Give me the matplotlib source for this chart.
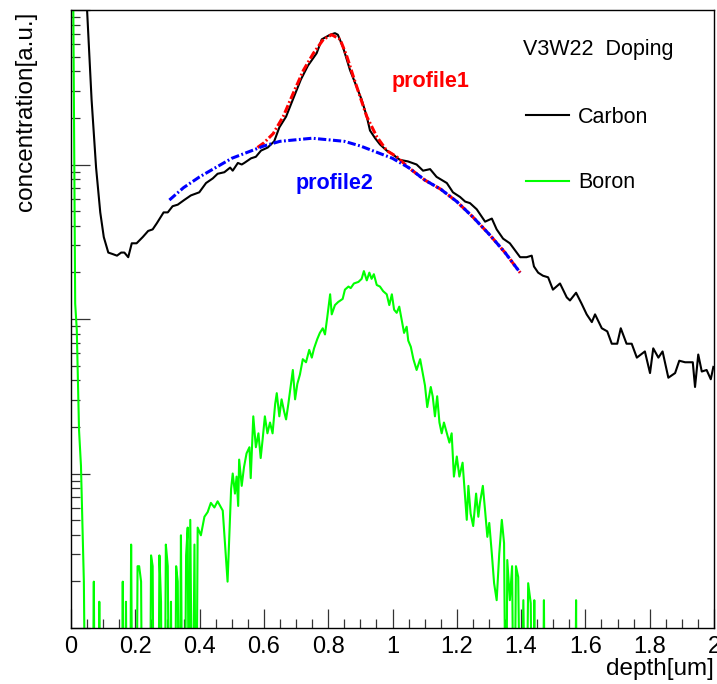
import numpy as np
import matplotlib
matplotlib.use("Agg")
import matplotlib.pyplot as plt
from matplotlib.ticker import MultipleLocator, LogLocator, NullFormatter, FuncFormatter
from matplotlib.lines import Line2D

plt.rcParams['font.family'] = ['Liberation Sans', 'DejaVu Sans']

# ---------------- data (depth in um, log10 of concentration in a.u.) ----------------
carbon_x = [0.040, 0.050, 0.064, 0.078, 0.091, 0.102, 0.116, 0.130, 0.143, 0.156,
            0.166, 0.178, 0.189, 0.204, 0.223, 0.240, 0.254, 0.267, 0.288, 0.301,
            0.316, 0.332, 0.352, 0.373, 0.399, 0.420, 0.441, 0.456, 0.477, 0.495,
            0.503, 0.519, 0.531, 0.539, 0.560, 0.575, 0.591, 0.612, 0.632, 0.648,
            0.669, 0.690, 0.715, 0.737, 0.764, 0.780, 0.806, 0.821, 0.830, 0.846,
            0.868, 0.889, 0.904, 0.920, 0.930, 0.946, 0.961, 0.982, 0.998, 1.023,
            1.048, 1.075, 1.095, 1.117, 1.137, 1.169, 1.188, 1.210, 1.226, 1.241,
            1.262, 1.288, 1.309, 1.324, 1.344, 1.365, 1.397, 1.417, 1.433, 1.440,
            1.453, 1.468, 1.484, 1.499, 1.521, 1.542, 1.552, 1.571, 1.588, 1.604,
            1.620, 1.630, 1.651, 1.668, 1.682, 1.699, 1.710, 1.728, 1.744, 1.760,
            1.785, 1.801, 1.811, 1.827, 1.840, 1.858, 1.879, 1.892, 1.910, 1.934,
            1.941, 1.951, 1.962, 1.977, 1.990, 1.998]
carbon_log = [4.6, 4.0, 3.42, 2.98, 2.69, 2.53, 2.43, 2.42, 2.41, 2.43,
              2.43, 2.40, 2.49, 2.49, 2.53, 2.57, 2.58, 2.62, 2.69, 2.69,
              2.73, 2.74, 2.77, 2.80, 2.82, 2.88, 2.91, 2.94, 2.95, 2.98,
              2.96, 3.01, 3.00, 3.01, 3.04, 3.05, 3.09, 3.11, 3.15, 3.24,
              3.31, 3.42, 3.55, 3.64, 3.72, 3.81, 3.84, 3.85, 3.84, 3.76,
              3.61, 3.50, 3.42, 3.31, 3.22, 3.17, 3.13, 3.09, 3.07, 3.03,
              3.02, 3.00, 2.96, 2.97, 2.92, 2.88, 2.82, 2.79, 2.76, 2.75,
              2.71, 2.63, 2.65, 2.58, 2.52, 2.49, 2.40, 2.40, 2.41, 2.34,
              2.30, 2.28, 2.27, 2.19, 2.23, 2.14, 2.12, 2.17, 2.10, 2.03,
              1.98, 2.03, 1.94, 1.92, 1.84, 1.84, 1.94, 1.84, 1.84, 1.75,
              1.79, 1.65, 1.81, 1.75, 1.79, 1.62, 1.65, 1.73, 1.72, 1.72,
              1.56, 1.77, 1.66, 1.67, 1.61, 1.69]

# -1 marks empty bins (below the axis floor)
boron_x = [0.000, 0.006, 0.013, 0.018, 0.025, 0.031, 0.040, 0.046, 0.066, 0.071,
           0.075, 0.084, 0.088, 0.092, 0.157, 0.161, 0.165, 0.168, 0.171, 0.175,
           0.183, 0.187, 0.192, 0.203, 0.207, 0.212, 0.218, 0.222, 0.245, 0.249,
           0.254, 0.258, 0.271, 0.275, 0.280, 0.284, 0.291, 0.295, 0.301, 0.306,
           0.311, 0.315, 0.323, 0.327, 0.332, 0.337, 0.342, 0.347, 0.353, 0.358,
           0.363, 0.367, 0.371, 0.378, 0.384, 0.389, 0.394, 0.404, 0.415, 0.425,
           0.435, 0.446, 0.456, 0.472, 0.487, 0.498, 0.503, 0.510, 0.515, 0.520,
           0.523, 0.531, 0.538, 0.546, 0.555, 0.559, 0.567, 0.575, 0.583, 0.590,
           0.596, 0.603, 0.611, 0.619, 0.627, 0.635, 0.640, 0.648, 0.655, 0.663,
           0.669, 0.676, 0.683, 0.690, 0.697, 0.704, 0.712, 0.721, 0.731, 0.741,
           0.749, 0.756, 0.766, 0.774, 0.783, 0.790, 0.797, 0.806, 0.811, 0.821,
           0.831, 0.845, 0.852, 0.863, 0.870, 0.880, 0.894, 0.904, 0.911, 0.920,
           0.928, 0.935, 0.942, 0.951, 0.961, 0.971, 0.982, 0.990, 0.998, 1.005,
           1.013, 1.021, 1.029, 1.036, 1.044, 1.049, 1.057, 1.065, 1.075, 1.086,
           1.094, 1.101, 1.108, 1.119, 1.125, 1.132, 1.139, 1.146, 1.153, 1.160,
           1.169, 1.177, 1.184, 1.191, 1.200, 1.208, 1.218, 1.225, 1.231, 1.236,
           1.243, 1.251, 1.260, 1.267, 1.272, 1.281, 1.288, 1.295, 1.301, 1.309,
           1.316, 1.324, 1.332, 1.340, 1.347, 1.353, 1.357, 1.365, 1.372, 1.378,
           1.384, 1.391, 1.399, 1.407, 1.415, 1.422, 1.430, 1.436, 1.441, 1.446,
           1.466, 1.471, 1.475, 1.567, 1.571, 1.574, 2.000]
boron_log = [4.8, 4.4, 2.10, 1.93, 1.28, 1.05, 0.30, -1, -1, 0.30,
             -1, -1, 0.17, -1, -1, 0.30, -1, -1, 0.17, -1,
             -1, 0.54, -1, -1, 0.40, 0.40, 0.30, -1, -1, 0.47,
             0.40, -1, -1, 0.47, 0.17, -1, -1, 0.54, 0.40, -1,
             0.17, -1, -1, 0.40, 0.30, -1, 0.60, -1, -1, 0.47,
             0.65, -1, 0.70, -1, 0.54, -1, 0.65, 0.60, 0.72, 0.75,
             0.81, 0.78, 0.82, 0.76, 0.30, 0.90, 1.00, 0.87, 0.98, 0.79,
             1.09, 0.92, 1.04, 1.13, 1.17, 0.97, 1.37, 1.17, 1.26, 1.10,
             1.22, 1.37, 1.26, 1.33, 1.26, 1.45, 1.52, 1.37, 1.48, 1.40,
             1.35, 1.45, 1.56, 1.67, 1.48, 1.58, 1.64, 1.74, 1.72, 1.80,
             1.75, 1.81, 1.87, 1.91, 1.94, 1.90, 2.01, 2.16, 2.03, 2.09,
             2.11, 2.13, 2.19, 2.21, 2.20, 2.23, 2.24, 2.26, 2.31, 2.25,
             2.30, 2.26, 2.29, 2.22, 2.21, 2.18, 2.16, 2.09, 2.16, 2.06,
             2.04, 2.08, 1.99, 1.91, 1.95, 1.86, 1.82, 1.74, 1.67, 1.74,
             1.65, 1.57, 1.43, 1.56, 1.50, 1.37, 1.50, 1.33, 1.26, 1.33,
             1.26, 1.20, 1.26, 0.98, 1.11, 0.98, 1.07, 0.87, 0.70, 0.92,
             0.74, 0.66, 0.87, 0.72, 0.81, 0.92, 0.76, 0.59, 0.68, 0.48,
             0.29, 0.18, 0.48, 0.70, 0.55, -1, 0.44, 0.18, 0.40, -1,
             0.40, 0.33, -1, 0.18, -1, 0.29, 0.16, -1, 0.18, -1,
             -1, 0.18, -1, -1, 0.18, -1, -1]

profile1_x = [0.580, 0.600, 0.629, 0.660, 0.691, 0.723, 0.754, 0.785, 0.811, 0.837,
              0.858, 0.878, 0.899, 0.920, 0.951, 0.982, 1.013, 1.05, 1.10, 1.15,
              1.20, 1.25, 1.30, 1.35, 1.397]
profile1_log = [3.11, 3.14, 3.20, 3.31, 3.46, 3.61, 3.72, 3.81, 3.84, 3.81,
                3.70, 3.57, 3.44, 3.31, 3.18, 3.09, 3.05, 2.98, 2.90, 2.84,
                2.76, 2.66, 2.55, 2.43, 2.30]

profile2_x = [0.306, 0.35, 0.40, 0.45, 0.50, 0.55, 0.60, 0.65, 0.70, 0.75,
              0.80, 0.85, 0.90, 0.95, 1.00, 1.05, 1.10, 1.15, 1.20, 1.25,
              1.30, 1.35, 1.397]
profile2_log = [2.77, 2.85, 2.92, 2.98, 3.04, 3.08, 3.12, 3.15, 3.16, 3.17,
                3.16, 3.15, 3.12, 3.08, 3.04, 2.98, 2.90, 2.84, 2.76, 2.66,
                2.55, 2.43, 2.30]

x_ticks = [0, 0.2, 0.4, 0.6, 0.8, 1.0, 1.2, 1.4, 1.6, 1.8, 2.0]

# ---------------- figure ----------------
W, H = 717, 684
fig = plt.figure(figsize=(W / 100, H / 100), dpi=100)
ax = fig.add_axes([71 / W, 56 / H, 643 / W, 618 / H])

carbon = 10 ** np.array(carbon_log)
boron = 10 ** np.array(boron_log)
prof1 = 10 ** np.array(profile1_log)
prof2 = 10 ** np.array(profile2_log)

ax.plot(carbon_x, carbon, color='black', lw=1.5, zorder=3)
ax.plot(boron_x, boron, color='#00ff00', lw=1.5, zorder=2)
ax.plot(profile1_x, prof1, color='#ff0000', lw=2.2, dashes=(2.7, 0.8, 0.6, 0.8), zorder=4)
ax.plot(profile2_x, prof2, color='#0000ff', lw=2.2, dashes=(2.7, 0.8, 0.6, 0.8), zorder=5)

ax.set_yscale('log')
ax.set_xlim(0, 2)
ax.set_ylim(1, 1e4)

ax.set_xticks(x_ticks)
ax.xaxis.set_minor_locator(MultipleLocator(0.05))
ax.xaxis.set_major_formatter(FuncFormatter(lambda v, p: f"{v:g}"))
ax.yaxis.set_major_locator(LogLocator(base=10))
ax.yaxis.set_minor_locator(LogLocator(base=10, subs=np.arange(2, 10)))
ax.yaxis.set_major_formatter(NullFormatter())
ax.yaxis.set_minor_formatter(NullFormatter())

ax.tick_params(axis='both', which='both', direction='in', color='#333333', width=0.9,
               top=False, right=False)
ax.tick_params(axis='both', which='major', length=13.5)
ax.tick_params(axis='both', which='minor', length=6.8)
ax.tick_params(axis='x', which='major', labelsize=17, pad=6)
for s in ax.spines.values():
    s.set_linewidth(1.0)
    s.set_color('black')

ax.set_ylabel('concentration[a.u.]', fontsize=17.5, loc='top')
ax.yaxis.set_label_coords(-0.053, 0.997)
ax.set_xlabel('depth[um]', fontsize=17.5, loc='right')
ax.xaxis.set_label_coords(1.0, -0.049)

ax.text(0.998, 10 ** 3.534, 'profile1', color='#ff0000', fontsize=15.5,
        fontweight='bold', ha='left', va='center')
ax.text(0.700, 10 ** 2.88, 'profile2', color='#0000ff', fontsize=15.5,
        fontweight='bold', ha='left', va='center')

ax.text((523 - 71) / 643, (628 - 50) / 618, 'V3W22  Doping', transform=ax.transAxes,
        fontsize=15.5, ha='left', va='center')

handles = [Line2D([], [], color='black', lw=1.5), Line2D([], [], color='#00ff00', lw=1.5)]
leg = ax.legend(handles, ['Carbon', 'Boron'], loc='upper left',
                bbox_to_anchor=((526 - 71) / 643, (628 - 107) / 618),
                frameon=False, fontsize=15.5, handlelength=2.0, handletextpad=0.42,
                labelspacing=2.05, borderpad=0, borderaxespad=0)

fig.savefig('out.png', dpi=100)
